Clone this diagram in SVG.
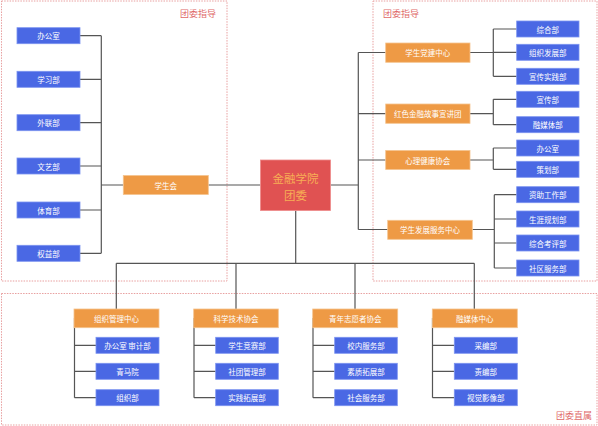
<svg xmlns="http://www.w3.org/2000/svg" width="598" height="426" viewBox="0 0 598 426">
<style>
.b{fill:#4a68e4;stroke:#7b93f0;stroke-width:0.8}
.o{fill:#ee9a45;stroke:#f4c48e;stroke-width:0.8}
.t{font-family:"Noto Sans CJK SC","Noto Sans",sans-serif;font-size:7.5px;fill:#ffffff;text-anchor:middle;dominant-baseline:central}
.zone{fill:none;stroke:#e8a0a0;stroke-width:1;stroke-dasharray:1.5,1.2}
.zl{font-family:"Noto Sans CJK SC","Noto Sans",sans-serif;font-size:9px;fill:#e06868;dominant-baseline:central}
.c{fill:none;stroke:#555555;stroke-width:1.2}
.rt{font-family:"Noto Sans CJK SC","Noto Sans",sans-serif;font-size:11.5px;fill:#f7ae55;text-anchor:middle;dominant-baseline:central}
</style>
<rect width="598" height="426" fill="#ffffff"/>
<g id="zones">
<rect class="zone" x="1.5" y="1" width="225.5" height="280"/>
<rect class="zone" x="373" y="1" width="224" height="280"/>
<rect class="zone" x="1.5" y="293.5" width="595.5" height="131.5"/>
<text class="zl" x="180" y="13">团委指导</text>
<text class="zl" x="383" y="13">团委指导</text>
<text class="zl" x="556" y="415">团委直属</text>
</g>
<g id="connectors">
<path class="c" d="M80,35.7H101.3M80,79.3H101.3M80,122.7H101.3M80,166H101.3M80,210H101.3M80,253.3H101.3M101.3,35.7V253.3M101.3,185H123.3M208.3,185H260.5"/>
<path class="c" d="M330.5,185H358.3M358.3,52.5V229.5M358.3,52.5H385.7M358.3,113.7H385.7M358.3,160H385.7M358.3,229.5H387.7"/>
<path class="c" d="M470,52.5H493.3M493.3,29V76.3M493.3,29H516.7M493.3,52.3H516.7M493.3,76.3H516.7"/>
<path class="c" d="M470,113.7H493.3M493.3,99.3V124.7M493.3,99.3H516.7M493.3,124.7H516.7"/>
<path class="c" d="M470,160H493.3M493.3,148V169.3M493.3,148H516.7M493.3,169.3H516.7"/>
<path class="c" d="M472.3,229.5H494.3M494.3,194.7V268M494.3,194.7H516.7M494.3,219H516.7M494.3,243H516.7M494.3,268H516.7"/>
<path class="c" d="M295.7,210.5V263.3M116.3,263.3H474.3M116.3,263.3V309M236,263.3V309M355,263.3V309M474.3,263.3V309"/>
<path class="c" d="M74.5,318V397.7M74.5,345.3H96M74.5,371.3H96M74.5,397.7H96"/>
<path class="c" d="M194,318V397.7M194,345.3H215.7M194,371.3H215.7M194,397.7H215.7"/>
<path class="c" d="M313,318V397.7M313,345.3H334.7M313,371.3H334.7M313,397.7H334.7"/>
<path class="c" d="M432.5,318V397.7M432.5,345.3H454.3M432.5,371.3H454.3M432.5,397.7H454.3"/>
</g>
<g id="root">
<rect x="260.5" y="160" width="70" height="50.5" fill="#e05252" stroke="#ee8a8a" stroke-width="0.8"/>
<text class="rt" x="295.5" y="177.5">金融学院</text>
<text class="rt" x="295.5" y="194.5">团委</text>
</g>
<g id="xsh"><rect class="o" x="123.3" y="175.5" width="85" height="19"/><text class="t" x="165.8" y="185">学生会</text></g>
<g id="l1"><rect class="b" x="17" y="27.7" width="63" height="16"/><text class="t" x="48.5" y="35.7">办公室</text></g>
<g id="l2"><rect class="b" x="17" y="71.3" width="63" height="16"/><text class="t" x="48.5" y="79.3">学习部</text></g>
<g id="l3"><rect class="b" x="17" y="114.7" width="63" height="16"/><text class="t" x="48.5" y="122.7">外联部</text></g>
<g id="l4"><rect class="b" x="17" y="158" width="63" height="16"/><text class="t" x="48.5" y="166">文艺部</text></g>
<g id="l5"><rect class="b" x="17" y="202" width="63" height="16"/><text class="t" x="48.5" y="210">体育部</text></g>
<g id="l6"><rect class="b" x="17" y="245.3" width="63" height="16"/><text class="t" x="48.5" y="253.3">权益部</text></g>
<g id="r1"><rect class="o" x="385.7" y="43" width="84.3" height="19.3"/><text class="t" x="427.8" y="52.6">学生党建中心</text></g>
<g id="r2"><rect class="o" x="385.7" y="104" width="84.3" height="19.3"/><text class="t" x="427.8" y="113.7">红色金融故事宣讲团</text></g>
<g id="r3"><rect class="o" x="385.7" y="150.5" width="84.3" height="19"/><text class="t" x="427.8" y="160">心理健康协会</text></g>
<g id="r4"><rect class="o" x="387.7" y="220.3" width="84.6" height="19"/><text class="t" x="430" y="229.8">学生发展服务中心</text></g>
<g id="r1a"><rect class="b" x="516.7" y="21" width="62.3" height="16"/><text class="t" x="547.8" y="29">综合部</text></g>
<g id="r1b"><rect class="b" x="516.7" y="44.3" width="62.3" height="16"/><text class="t" x="547.8" y="52.3">组织发展部</text></g>
<g id="r1c"><rect class="b" x="516.7" y="68.3" width="62.3" height="16"/><text class="t" x="547.8" y="76.3">宣传实践部</text></g>
<g id="r2a"><rect class="b" x="516.7" y="91.3" width="62.3" height="16"/><text class="t" x="547.8" y="99.3">宣传部</text></g>
<g id="r2b"><rect class="b" x="516.7" y="116.7" width="62.3" height="16"/><text class="t" x="547.8" y="124.7">融媒体部</text></g>
<g id="r3a"><rect class="b" x="516.7" y="140" width="62.3" height="16"/><text class="t" x="547.8" y="148">办公室</text></g>
<g id="r3b"><rect class="b" x="516.7" y="161.3" width="62.3" height="16"/><text class="t" x="547.8" y="169.3">策划部</text></g>
<g id="r4a"><rect class="b" x="516.7" y="186.7" width="62.3" height="16"/><text class="t" x="547.8" y="194.7">资助工作部</text></g>
<g id="r4b"><rect class="b" x="516.7" y="211" width="62.3" height="16"/><text class="t" x="547.8" y="219">生涯规划部</text></g>
<g id="r4c"><rect class="b" x="516.7" y="235" width="62.3" height="16"/><text class="t" x="547.8" y="243">综合考评部</text></g>
<g id="r4d"><rect class="b" x="516.7" y="260" width="62.3" height="16"/><text class="t" x="547.8" y="268">社区服务部</text></g>
<g id="b1"><rect class="o" x="74" y="309" width="85" height="18.7"/><text class="t" x="116.5" y="318.3">组织管理中心</text></g>
<g id="b2"><rect class="o" x="193.7" y="309" width="84.6" height="18.7"/><text class="t" x="236" y="318.3">科学技术协会</text></g>
<g id="b3"><rect class="o" x="312.7" y="309" width="85" height="18.7"/><text class="t" x="355.2" y="318.3">青年志愿者协会</text></g>
<g id="b4"><rect class="o" x="432.3" y="309" width="85" height="18.7"/><text class="t" x="474.8" y="318.3">融媒体中心</text></g>
<g id="b1a"><rect class="b" x="96" y="337.3" width="63" height="16"/><text class="t" x="127.5" y="345.3">办公室 审计部</text></g>
<g id="b1b"><rect class="b" x="96" y="363.3" width="63" height="16"/><text class="t" x="127.5" y="371.3">青马院</text></g>
<g id="b1c"><rect class="b" x="96" y="389.7" width="63" height="16"/><text class="t" x="127.5" y="397.7">组织部</text></g>
<g id="b2a"><rect class="b" x="215.7" y="337.3" width="62.6" height="16"/><text class="t" x="247" y="345.3">学生竞赛部</text></g>
<g id="b2b"><rect class="b" x="215.7" y="363.3" width="62.6" height="16"/><text class="t" x="247" y="371.3">社团管理部</text></g>
<g id="b2c"><rect class="b" x="215.7" y="389.7" width="62.6" height="16"/><text class="t" x="247" y="397.7">实践拓展部</text></g>
<g id="b3a"><rect class="b" x="334.7" y="337.3" width="62.6" height="16"/><text class="t" x="366" y="345.3">校内服务部</text></g>
<g id="b3b"><rect class="b" x="334.7" y="363.3" width="62.6" height="16"/><text class="t" x="366" y="371.3">素质拓展部</text></g>
<g id="b3c"><rect class="b" x="334.7" y="389.7" width="62.6" height="16"/><text class="t" x="366" y="397.7">社会服务部</text></g>
<g id="b4a"><rect class="b" x="454.3" y="337.3" width="63" height="16"/><text class="t" x="485.8" y="345.3">采编部</text></g>
<g id="b4b"><rect class="b" x="454.3" y="363.3" width="63" height="16"/><text class="t" x="485.8" y="371.3">责编部</text></g>
<g id="b4c"><rect class="b" x="454.3" y="389.7" width="63" height="16"/><text class="t" x="485.8" y="397.7">视觉影像部</text></g>
</svg>
